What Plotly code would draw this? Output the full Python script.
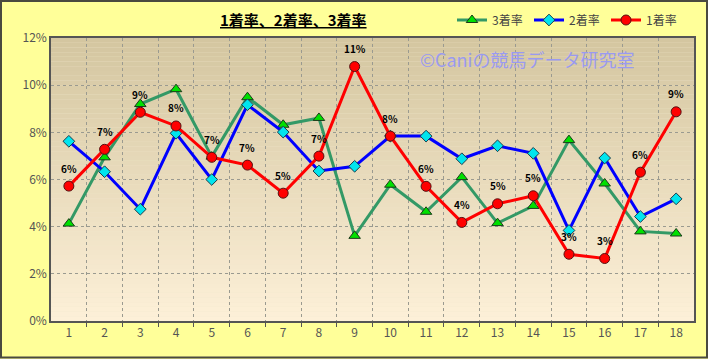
import plotly.graph_objects as go

categories = list(range(1, 18 + 1))
rate1 = [5.72, 7.28, 8.85, 8.27, 6.94, 6.61, 5.42, 6.99, 10.79, 7.84, 5.71, 4.18, 4.97, 5.31, 2.83, 2.65, 6.31, 8.87]
rate2 = [7.62, 6.33, 4.74, 7.96, 6.00, 9.17, 8.01, 6.36, 6.56, 7.84, 7.84, 6.88, 7.43, 7.11, 3.84, 6.91, 4.43, 5.18]
rate3 = [4.13, 6.94, 9.20, 9.83, 6.97, 9.49, 8.32, 8.61, 3.61, 5.78, 4.63, 6.10, 4.15, 4.88, 7.67, 5.83, 3.80, 3.71]
labels1 = [f"{round(v)}%" for v in rate1]
y_ticks = [0, 2, 4, 6, 8, 10, 12]

W, H = 708, 359
L, R, T, B = 51, 14, 38, 38
pw, ph = W - L - R, H - T - B

def px(x):
    return (x - L) / pw

def py(y):
    return (H - B - y) / ph

FONT = "Noto Sans CJK JP"

fig = go.Figure()
fig.add_trace(go.Scatter(
    x=categories, y=rate3, name="3着率", mode="lines+markers",
    line=dict(color="#339966", width=3),
    marker=dict(symbol="triangle-up", size=10, color="#00E000", line=dict(color="#1a3a1a", width=1)),
))
fig.add_trace(go.Scatter(
    x=categories, y=rate2, name="2着率", mode="lines+markers",
    line=dict(color="#0000FF", width=3),
    marker=dict(symbol="diamond", size=9, color="#00E5EE", line=dict(color="#1a3a4a", width=1)),
))
fig.add_trace(go.Scatter(
    x=categories, y=rate1, name="1着率", mode="lines+markers",
    line=dict(color="#FF0000", width=3),
    marker=dict(symbol="circle", size=10, color="#FF0000", line=dict(color="#551111", width=1)),
))

annotations = []
for c, v, t in zip(categories, rate1, labels1):
    annotations.append(dict(x=c, y=v, text=f"<b>{t}</b>", showarrow=False, yshift=18,
                            font=dict(family=FONT, size=10, color="#000000")))
annotations.append(dict(xref="paper", yref="paper", x=px(293), y=py(20), text="<b><u>1着率、2着率、3着率</u></b>",
                        showarrow=False, xanchor="center", yanchor="middle",
                        font=dict(family=FONT, size=15, color="#000000")))
annotations.append(dict(xref="paper", yref="paper", x=px(527), y=py(59), text="©Caniの競馬データ研究室",
                        showarrow=False, xanchor="center", yanchor="middle",
                        font=dict(family=FONT, size=18, color="#9a9af0")))

shapes = []
n = 60
top = (212, 198, 160)
bot = (253, 240, 216)
for i in range(n):
    f = i / (n - 1)
    col = tuple(round(top[k] + (bot[k] - top[k]) * f) for k in range(3))
    shapes.append(dict(type="rect", xref="paper", yref="paper", x0=0, x1=1,
                       y0=1 - (i + 1) / n, y1=1 - i / n, layer="below",
                       fillcolor="rgb(%d,%d,%d)" % col, line=dict(width=0)))
shapes.append(dict(type="rect", xref="paper", yref="paper", x0=px(1), x1=px(707), y0=py(357.5), y1=py(1),
                   line=dict(color="#4a4a40", width=2), fillcolor="rgba(0,0,0,0)", layer="above"))

fig.update_layout(
    width=W, height=H,
    margin=dict(l=L, r=R, t=T, b=B, autoexpand=False),
    paper_bgcolor="#FFFF99",
    plot_bgcolor="#F0E6CC",
    font=dict(family=FONT, size=12, color="#555555"),
    showlegend=True,
    legend=dict(orientation="h", x=px(452), y=py(20), xanchor="left", yanchor="middle",
                bgcolor="rgba(0,0,0,0)", font=dict(family=FONT, size=12, color="#444444"),
                entrywidth=32, entrywidthmode="pixels", itemwidth=30),
    annotations=annotations,
    shapes=shapes,
    xaxis=dict(range=[0.5, 18.5], tickmode="array", tickvals=categories, ticktext=[str(c) for c in categories],
               showgrid=False, zeroline=False, showline=True, linecolor="#555555", linewidth=1.5, mirror=True,
               ticks="", tickfont=dict(size=12, color="#555555"),
               minor=dict(tickmode="array", tickvals=[c + 0.5 for c in categories[:-1]], showgrid=True,
                          gridcolor="#9a9a90", griddash="dot", gridwidth=1,
                          ticks="outside", ticklen=4, tickcolor="#555555")),
    yaxis=dict(range=[0, 12], tickmode="array", tickvals=y_ticks, ticktext=[f"{v}%" for v in y_ticks],
               showgrid=True, gridcolor="#9a9a90", griddash="dot", gridwidth=1, zeroline=False,
               showline=True, linecolor="#555555", linewidth=1.5, mirror=True, ticks="",
               tickfont=dict(size=12, color="#555555")),
)

fig.write_html("out.html")
